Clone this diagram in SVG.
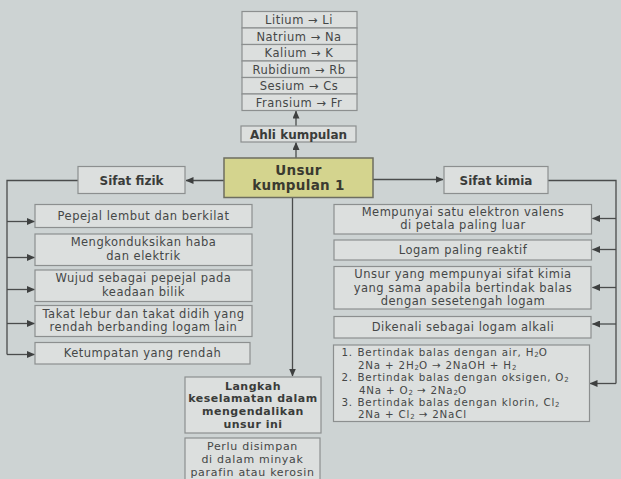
<svg xmlns="http://www.w3.org/2000/svg" width="621" height="479" viewBox="0 0 621 479">
<style>
.bg{fill:#cdd3d3}
.box{fill:#dcdfde;stroke:#8c8f8f;stroke-width:1.2}
.main{fill:#d4d48e;stroke:#6e6e60;stroke-width:1.5}
text{font-family:"DejaVu Sans","Liberation Sans",sans-serif;fill:#454747;font-size:11.5px;letter-spacing:0.5px}
.c{text-anchor:middle}
.b{font-weight:bold;fill:#3a3c3a;font-size:12px;letter-spacing:0}
.lk{font-weight:bold;fill:#3a3c3a;font-size:11px;letter-spacing:0.5px}
.el{font-size:11.5px}
.t{font-size:13.5px;font-weight:bold;fill:#3a3a30;letter-spacing:0.3px}
.r{font-size:10.3px;letter-spacing:0.8px}
.p{font-size:11px;letter-spacing:0.7px}
.con{fill:none;stroke:#4a4c4c;stroke-width:1.3}
.sub{font-size:7px;letter-spacing:0}
</style>
<defs>
<marker id="ah" markerWidth="8" markerHeight="7" refX="7.5" refY="3.5" orient="auto" markerUnits="userSpaceOnUse">
<path d="M0,0 L8,3.5 L0,7 z" fill="#3e4040"/>
</marker>
</defs>
<rect class="bg" x="0" y="0" width="621" height="479"/>

<g id="connectors">
<line class="con" x1="296" y1="126" x2="296" y2="111" marker-end="url(#ah)"/>
<line class="con" x1="296" y1="158" x2="296" y2="142.5" marker-end="url(#ah)"/>
<line class="con" x1="224" y1="180.5" x2="186" y2="180.5" marker-end="url(#ah)"/>
<line class="con" x1="373" y1="179.5" x2="443" y2="179.5" marker-end="url(#ah)"/>
<line class="con" x1="292.5" y1="197.5" x2="292.5" y2="376" marker-end="url(#ah)"/>
<polyline class="con" points="78,180.5 7,180.5 7,354.5"/>
<line class="con" x1="7" y1="221.5" x2="34.5" y2="221.5" marker-end="url(#ah)"/>
<line class="con" x1="7" y1="257.5" x2="34.5" y2="257.5" marker-end="url(#ah)"/>
<line class="con" x1="7" y1="289.5" x2="34.5" y2="289.5" marker-end="url(#ah)"/>
<line class="con" x1="7" y1="323.5" x2="34.5" y2="323.5" marker-end="url(#ah)"/>
<line class="con" x1="7" y1="354.5" x2="34.5" y2="354.5" marker-end="url(#ah)"/>
<polyline class="con" points="548,180.5 616,180.5 616,383.5"/>
<line class="con" x1="616" y1="218.5" x2="592.5" y2="218.5" marker-end="url(#ah)"/>
<line class="con" x1="616" y1="249.5" x2="592.5" y2="249.5" marker-end="url(#ah)"/>
<line class="con" x1="616" y1="287.5" x2="592.5" y2="287.5" marker-end="url(#ah)"/>
<line class="con" x1="616" y1="324" x2="592.5" y2="324" marker-end="url(#ah)"/>
<line class="con" x1="616" y1="383.5" x2="590" y2="383.5" marker-end="url(#ah)"/>
</g>

<g id="elements">
<rect class="box" x="242" y="11.5" width="115" height="16.5"/>
<rect class="box" x="242" y="28" width="115" height="16.5"/>
<rect class="box" x="242" y="44.5" width="115" height="16.5"/>
<rect class="box" x="242" y="61" width="115" height="16.5"/>
<rect class="box" x="242" y="77.5" width="115" height="16.5"/>
<rect class="box" x="242" y="94" width="115" height="16.5"/>
<text class="c el" x="299" y="24">Litium → Li</text>
<text class="c el" x="299" y="40.5">Natrium → Na</text>
<text class="c el" x="299" y="57">Kalium → K</text>
<text class="c el" x="299" y="73.5">Rubidium → Rb</text>
<text class="c el" x="299" y="90">Sesium → Cs</text>
<text class="c el" x="299" y="106.5">Fransium → Fr</text>
</g>

<g id="ahli">
<rect class="box" x="241" y="126" width="115" height="16"/>
<text class="c b" x="298.5" y="138.5">Ahli kumpulan</text>
</g>

<g id="unsur">
<rect class="main" x="224" y="158" width="149" height="39.5"/>
<text class="c t" x="298.5" y="174.5">Unsur</text>
<text class="c t" x="298.5" y="190.3">kumpulan 1</text>
</g>

<g id="sifat-fizik">
<rect class="box" x="78" y="166.5" width="107" height="27"/>
<text class="c b" x="131.5" y="184.5">Sifat fizik</text>
</g>

<g id="sifat-kimia">
<rect class="box" x="444" y="166.5" width="104" height="27"/>
<text class="c b" x="496" y="184.5">Sifat kimia</text>
</g>

<g id="fizik-1">
<rect class="box" x="35" y="204.5" width="217" height="23"/>
<text class="c" x="143.5" y="220.3">Pepejal lembut dan berkilat</text>
</g>
<g id="fizik-2">
<rect class="box" x="35" y="234" width="217" height="31.5"/>
<text class="c" x="143.5" y="246.2">Mengkonduksikan haba</text>
<text class="c" x="143.5" y="259.6">dan elektrik</text>
</g>
<g id="fizik-3">
<rect class="box" x="35" y="270" width="217" height="31.5"/>
<text class="c" x="143.5" y="282.2">Wujud sebagai pepejal pada</text>
<text class="c" x="143.5" y="295.6">keadaan bilik</text>
</g>
<g id="fizik-4">
<rect class="box" x="35" y="305.5" width="217" height="31"/>
<text class="c" x="143.5" y="317.6">Takat lebur dan takat didih yang</text>
<text class="c" x="143.5" y="331">rendah berbanding logam lain</text>
</g>
<g id="fizik-5">
<rect class="box" x="35" y="342.5" width="215" height="21.5"/>
<text class="c" x="142.5" y="357.3">Ketumpatan yang rendah</text>
</g>

<g id="kimia-1">
<rect class="box" x="334" y="204.5" width="257.5" height="29.5"/>
<text class="c" x="463" y="216">Mempunyai satu elektron valens</text>
<text class="c" x="463" y="229.4">di petala paling luar</text>
</g>
<g id="kimia-2">
<rect class="box" x="334" y="240" width="257.5" height="20"/>
<text class="c" x="463" y="254">Logam paling reaktif</text>
</g>
<g id="kimia-3">
<rect class="box" x="334" y="266.5" width="257" height="42.5"/>
<text class="c" x="463" y="278.3">Unsur yang mempunyai sifat kimia</text>
<text class="c" x="463" y="291.7">yang sama apabila bertindak balas</text>
<text class="c" x="463" y="305.1">dengan sesetengah logam</text>
</g>
<g id="kimia-4">
<rect class="box" x="334" y="316.5" width="257" height="21.5"/>
<text class="c" x="463" y="331.2">Dikenali sebagai logam alkali</text>
</g>
<g id="kimia-5">
<rect class="box" x="333.5" y="345" width="256" height="76.5"/>
<text class="r" x="341.5" y="356.3">1.</text>
<text class="r" x="357.5" y="356.3">Bertindak balas dengan air, H<tspan class="sub" dy="1">2</tspan><tspan dy="-1">O</tspan></text>
<text class="r" x="358" y="368.7">2Na + 2H<tspan class="sub" dy="1">2</tspan><tspan dy="-1">O → 2NaOH + H</tspan><tspan class="sub" dy="1">2</tspan></text>
<text class="r" x="341.5" y="381.1">2.</text>
<text class="r" x="357.5" y="381.1">Bertindak balas dengan oksigen, O<tspan class="sub" dy="1">2</tspan></text>
<text class="r" x="359" y="393.5">4Na + O<tspan class="sub" dy="1">2</tspan><tspan dy="-1"> → 2Na</tspan><tspan class="sub" dy="1">2</tspan><tspan dy="-1">O</tspan></text>
<text class="r" x="341.5" y="405.9">3.</text>
<text class="r" x="357.5" y="405.9">Bertindak balas dengan klorin, Cl<tspan class="sub" dy="1">2</tspan></text>
<text class="r" x="358" y="418.3">2Na + Cl<tspan class="sub" dy="1">2</tspan><tspan dy="-1"> → 2NaCl</tspan></text>
</g>

<g id="langkah">
<rect class="box" x="185" y="377" width="136" height="56"/>
<text class="c lk" x="253" y="389.5">Langkah</text>
<text class="c lk" x="253" y="402.3">keselamatan dalam</text>
<text class="c lk" x="253" y="415.1">mengendalikan</text>
<text class="c lk" x="253" y="427.9">unsur ini</text>
</g>

<g id="perlu">
<rect class="box" x="185" y="438" width="135" height="45"/>
<text class="c p" x="252.5" y="450">Perlu disimpan</text>
<text class="c p" x="252.5" y="462.8">di dalam minyak</text>
<text class="c p" x="252.5" y="475.6">parafin atau kerosin</text>
</g>
</svg>
